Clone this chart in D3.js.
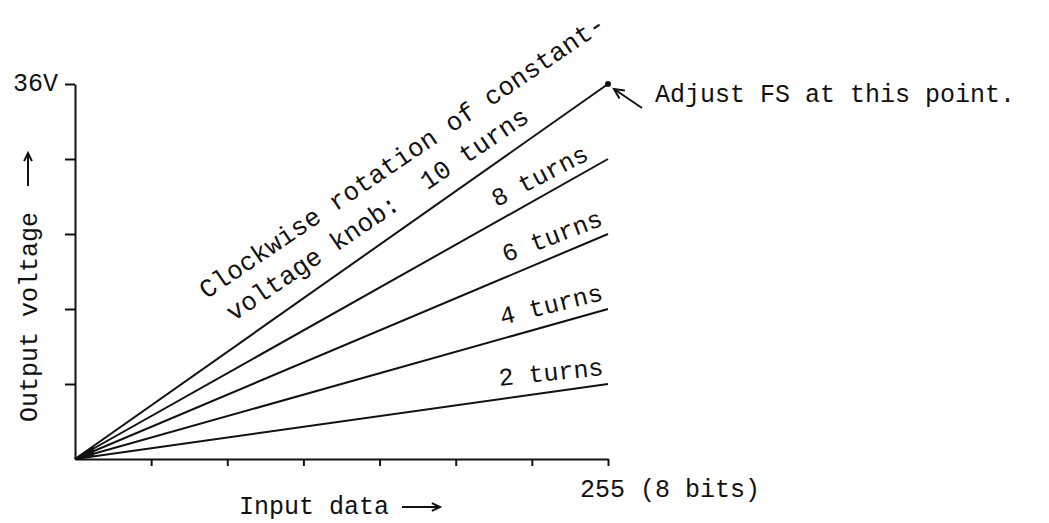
<!DOCTYPE html>
<html>
<head>
<meta charset="utf-8">
<script src="https://cdn.jsdelivr.net/npm/d3@7/dist/d3.min.js"></script>
<style>
  html, body { margin: 0; padding: 0; background: #fff; }
  svg { display: block; }
  text { font-family: "Liberation Mono", "DejaVu Sans Mono", monospace; fill: #111; }
</style>
</head>
<body>
<svg id="chart" width="1049" height="523"></svg>
<script>
// Knob setting (turns) and the output voltage reached at full-scale input (255)
const turns = [2, 4, 6, 8, 10];
const fullScaleVolts = [7.2, 14.4, 21.6, 28.8, 36];
const turnLabels = ["2 turns", "4 turns", "6 turns", "8 turns", "10 turns"];

// Axis ticks
const xTicks = [0, 255 / 7, 2 * 255 / 7, 3 * 255 / 7, 4 * 255 / 7, 5 * 255 / 7, 6 * 255 / 7, 255];
const yTicks = [0, 7.2, 14.4, 21.6, 28.8, 36];
const xMaxLabel = "255 (8 bits)";
const yMaxLabel = "36V";
const xTitle = "Input data";
const yTitle = "Output voltage";
const noteLine1 = "Clockwise rotation of constant-";
const noteLine2 = "voltage knob:  ";
const fsNote = "Adjust FS at this point.";

const svg = d3.select("#chart");
const ink = "#111";
const fontSize = 25;

const x = d3.scaleLinear().domain([0, 255]).range([75, 608]);
const y = d3.scaleLinear().domain([0, 36]).range([459, 84]);

// Axes: x ticks hang downward, y ticks point left
const xAxis = d3.axisBottom(x).tickValues(xTicks).tickSize(7).tickFormat("").tickSizeOuter(0);
const yAxis = d3.axisLeft(y).tickValues(yTicks.slice(1)).tickSize(10).tickFormat("").tickSizeOuter(0);

const gx = svg.append("g").attr("transform", `translate(0,${y(0)})`).call(xAxis);
const gy = svg.append("g").attr("transform", `translate(${x(0)},0)`).call(yAxis);
[gx, gy].forEach(g => {
  g.select(".domain").attr("stroke", ink).attr("stroke-width", 2);
  g.selectAll(".tick line").attr("stroke", ink).attr("stroke-width", 2);
});
gx.selectAll(".tick").filter(d => d === 0).remove();

// Transfer lines, one per knob setting
const lines = turns.map((t, i) => ({ t, v: fullScaleVolts[i], label: turnLabels[i] }));
svg.append("g").selectAll("line").data(lines).join("line")
  .attr("x1", x(0)).attr("y1", y(0))
  .attr("x2", x(255)).attr("y2", d => y(d.v))
  .attr("stroke", ink).attr("stroke-width", 2);

// Ink where the lines converge near the origin
const wedgeX = 9;
svg.append("path")
  .attr("d", `M${x(0)},${y(0)}L${x(wedgeX)},${y(36 * wedgeX / 255)}L${x(wedgeX)},${y(7.2 * wedgeX / 255)}Z`)
  .attr("fill", ink);

// Full-scale adjustment point
svg.append("circle").attr("cx", x(255)).attr("cy", y(36)).attr("r", 3).attr("fill", ink);

const angleOf = v => Math.atan2(y(0) - y(v), x(255) - x(0)) * 180 / Math.PI;

// Turn labels sitting just above the end of each line (the 10-turn one joins the note)
svg.append("g").selectAll("text").data(lines.filter(d => d.t < 10)).join("text")
  .attr("transform", d => `translate(${x(255) - (d.t === 8 ? 18 : 4)},${y(d.v * (d.t === 8 ? 0.97 : 1)) - 9}) rotate(${-(angleOf(d.v) - 2)})`)
  .attr("text-anchor", "end")
  .attr("font-size", fontSize)
  .text(d => d.label);

// Two-line note along the steepest line
const steepest = lines[lines.length - 1];
const noteAngle = angleOf(steepest.v) - 1;
const noteSize = 26;
const at = 218;
svg.append("text")
  .attr("transform", `translate(${x(at)},${y(steepest.v * at / 255) - 18}) rotate(${-noteAngle})`)
  .attr("text-anchor", "end").attr("font-size", noteSize)
  .attr("xml:space", "preserve")
  .text(noteLine2 + steepest.label);
svg.append("text")
  .attr("transform", `translate(${x(255) - 1},${y(steepest.v) - 56}) rotate(${-noteAngle})`)
  .attr("text-anchor", "end").attr("font-size", noteSize)
  .text(noteLine1);

// Axis end labels
svg.append("text").attr("x", x(0) - 17).attr("y", y(36) + 7)
  .attr("text-anchor", "end").attr("font-size", fontSize).text(yMaxLabel);
svg.append("text").attr("x", x(255) - 28).attr("y", 497)
  .attr("font-size", fontSize).text(xMaxLabel);

// Axis titles with arrows
const arrow = (x1, y1, x2, y2, head) => {
  const a = Math.atan2(y2 - y1, x2 - x1);
  const g = svg.append("g").attr("stroke", ink).attr("stroke-width", 2).attr("fill", "none");
  g.append("line").attr("x1", x1).attr("y1", y1).attr("x2", x2).attr("y2", y2);
  const h1 = a + Math.PI - 0.45, h2 = a + Math.PI + 0.45;
  g.append("path").attr("d",
    `M${x2 + head * Math.cos(h1)},${y2 + head * Math.sin(h1)}L${x2},${y2}L${x2 + head * Math.cos(h2)},${y2 + head * Math.sin(h2)}`);
};

svg.append("text").attr("x", 239).attr("y", 514).attr("font-size", fontSize).text(xTitle);
arrow(402, 507, 440, 507, 9);

svg.append("text").attr("transform", "translate(37,422) rotate(-90)")
  .attr("font-size", fontSize).text(yTitle);
arrow(28, 186, 28, 153, 9);

svg.append("text").attr("x", 655).attr("y", 102).attr("font-size", fontSize).text(fsNote);
arrow(642, 108, 614, 89, 11);
</script>
</body>
</html>
